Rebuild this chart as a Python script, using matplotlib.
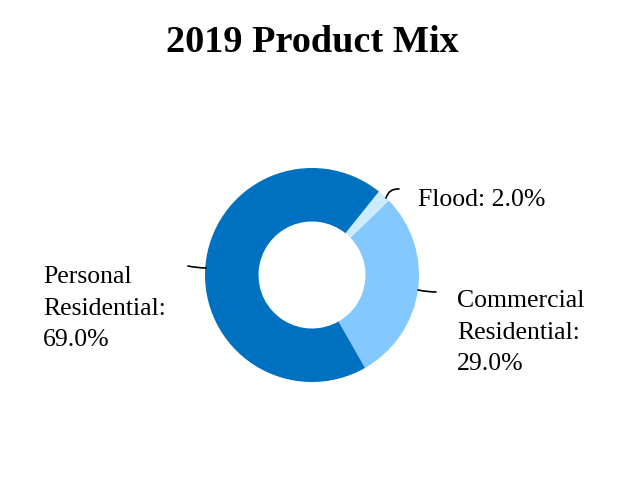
import matplotlib
matplotlib.use("Agg")
import matplotlib.pyplot as plt

# Data
labels = ["Commercial\nResidential:", "Flood:", "Personal\nResidential:"]
shares = [29.0, 2.0, 69.0]
colors = ["#83C8FF", "#CCEBFF", "#0070C0"]

plt.rcParams["font.family"] = ["Liberation Serif", "DejaVu Serif"]

W, H = 624, 480
fig = plt.figure(figsize=(W / 100, H / 100), dpi=100)
ax = fig.add_axes([0, 0, 1, 1])

R = 107
cx, cy = 312, H - 275
wedges, _ = ax.pie(shares, colors=colors, startangle=-60.3, counterclock=True,
                   radius=R, center=(cx, cy), frame=True,
                   wedgeprops=dict(width=R * 0.5, linewidth=0))
ax.set_xlim(0, W)
ax.set_ylim(0, H)
ax.set_aspect("equal")
ax.axis("off")

# label position: x, baseline of last line (pixels from top)
label_pos = [(457, 370), (418, 206), (43, 346)]
leaders = [((418, 290), (436, 292), 0.05),
           ((386, 198), (399, 189), -0.4),
           ((188, 266), (206, 268), 0.05)]
for lab, val, (tx, ty), (p0, p1, rad) in zip(labels, shares, label_pos, leaders):
    txt = f"{lab}\n{val:.1f}%" if "\n" in lab else f"{lab} {val:.1f}%"
    ax.text(tx, H - ty, txt, fontsize=18.5, va="baseline", ha="left",
            linespacing=1.55)
    ax.annotate("", xy=(p1[0], H - p1[1]), xytext=(p0[0], H - p0[1]),
                arrowprops=dict(arrowstyle="-", color="black", lw=1.2,
                                connectionstyle=f"arc3,rad={rad}",
                                shrinkA=0, shrinkB=0))

ax.text(W / 2, H - 52, "2019 Product Mix", fontsize=27.5, fontweight="bold",
        ha="center", va="baseline")

fig.savefig("out.png", dpi=100)
plt.close(fig)
